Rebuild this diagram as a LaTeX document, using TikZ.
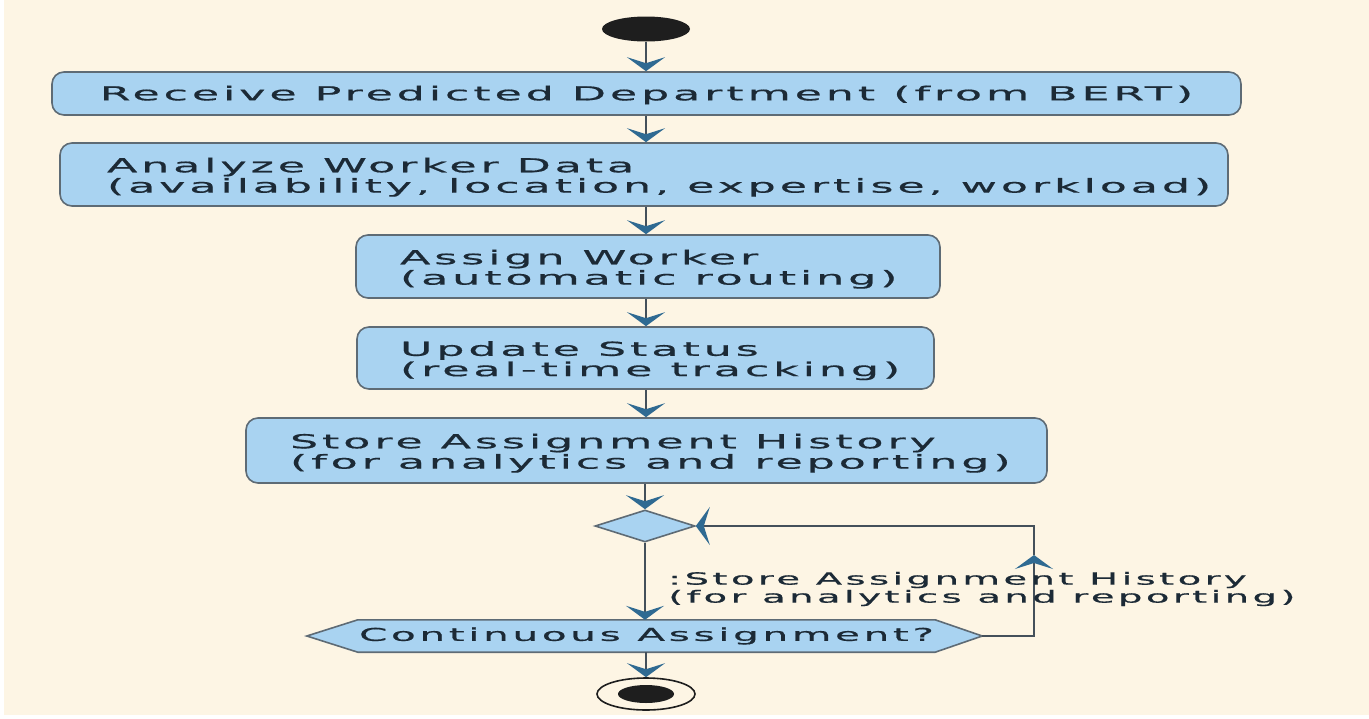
\documentclass[tikz,border=0pt]{standalone}
\usepackage{fontspec}
\setmainfont{DejaVu Sans}
\newfontfamily\wfont[FakeStretch=2.3,LetterSpace=20,FakeBold=0.6]{DejaVu Sans}
\usetikzlibrary{arrows.meta,shapes.geometric}
\pgfdeclarelayer{background}
\pgfsetlayers{background,main}
\definecolor{bg}{HTML}{FDF5E4}
\definecolor{boxfill}{HTML}{A9D3F1}
\definecolor{boxline}{HTML}{5E6B75}
\definecolor{lineclr}{HTML}{44505A}
\definecolor{tipclr}{HTML}{2F6A92}
\definecolor{txt}{HTML}{1C2A36}
\definecolor{dark}{HTML}{1E1E1E}
\newcommand\twol[2]{\begin{tabular}{@{}l@{}}#1\\#2\end{tabular}}
\newcommand\padbox[3]{\makebox[#1][l]{\hspace*{#2}\raisebox{-3.5pt}[\height][\depth]{\twol#3}}}
\begin{document}
\begin{tikzpicture}[x=1pt,y=-1pt,
  actbox/.style={draw=boxline, line width=1.6pt, fill=boxfill, rounded corners=12pt,
    inner sep=0pt, text=txt, font=\wfont\fontsize{19.3}{19}\selectfont},
  flow/.style={draw=lineclr, line width=1.8pt,
    -{Stealth[length=14pt,width=38pt,inset=6pt,color=tipclr]}},
  lbl/.style={text=txt, font=\wfont\fontsize{16.8}{18}\selectfont, align=left, inner sep=0pt}]
\useasboundingbox (0,0) rectangle (1369,718);
\begin{pgfonlayer}{background}
\fill[white] (0,0) rectangle (1369,718);
\fill[bg] (4,0) rectangle (1369,715);
\end{pgfonlayer}
\coordinate (sp) at (646,0);

\node[ellipse, fill=dark, minimum width=88pt, minimum height=25pt, inner sep=0pt] (start) at (646,29) {};

\node[actbox, minimum width=1189pt, minimum height=43pt, align=center] (b1) at (646.5,93.5)
  {\raisebox{-1.5pt}[\height][\depth]{Receive Predicted Department (from BERT)}};
\node[actbox, minimum height=63pt] (b2) at (644,174.5)
  {\padbox{1168pt}{47pt}{{Analyze Worker Data}{(availability, location, expertise, workload)}}};
\node[actbox, minimum height=63pt] (b3) at (648,266.5)
  {\padbox{584pt}{44pt}{{Assign Worker}{(automatic routing)}}};
\node[actbox, minimum height=62pt] (b4) at (645.5,358)
  {\padbox{577pt}{43pt}{{Update Status}{(real-time tracking)}}};
\node[actbox, minimum height=65pt] (b5) at (646.5,450.5)
  {\padbox{801pt}{44pt}{{Store Assignment History}{(for analytics and reporting)}}};

\node[diamond, draw=boxline, line width=1.6pt, fill=boxfill, minimum width=100pt, minimum height=32pt, inner sep=0pt] (dia) at (645,526) {};

\node[text=txt, font=\wfont\fontsize{17.7}{18}\selectfont, minimum width=577pt, minimum height=32pt, inner sep=0pt] (hx) at (646.5,636) {Continuous Assignment?};
\begin{pgfonlayer}{background}
\draw[draw=boxline, line width=1.6pt, fill=boxfill] (hx.north west) -- (hx.north east) -- ([xshift=47pt]hx.east) -- (hx.south east) -- (hx.south west) -- ([xshift=-51pt]hx.west) -- cycle;
\end{pgfonlayer}

\node[ellipse, draw=dark, line width=1.6pt, minimum width=98pt, minimum height=32pt, inner sep=0pt] (end) at (646,694) {};
\node[ellipse, fill=dark, minimum width=56pt, minimum height=18pt, inner sep=0pt] (endin) at (end) {};

\draw[flow] (start.south) -- (start.south |- b1.north);
\draw[flow] (b1.south -| sp) -- (b2.north -| sp);
\draw[flow] (b2.south -| sp) -- (b3.north -| sp);
\draw[flow] (b3.south -| sp) -- (b4.north -| sp);
\draw[flow] (b4.south -| sp) -- (b5.north -| sp);
\draw[flow] (b5.south -| dia) -- (dia.north);
\draw[flow] (dia.south) -- (dia.south |- hx.north);
\draw[flow] (hx.south -| sp) -- (end.north);

\coordinate (loopmid) at (1034,555);
\draw[flow] ([xshift=47pt]hx.east) -| (loopmid);
\draw[flow] (loopmid) |- (dia.east);

\node[lbl, anchor=west] (lab) at (668,589) {:Store Assignment History\\(for analytics and reporting)};
\end{tikzpicture}
\end{document}
